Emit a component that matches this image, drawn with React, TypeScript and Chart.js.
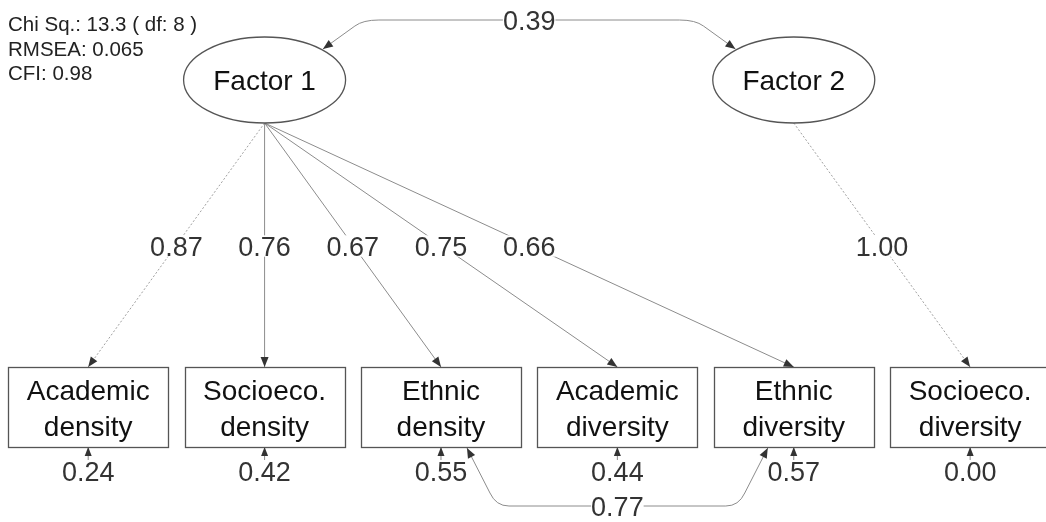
import React, { useEffect, useRef } from 'react';
import { Chart, registerables } from 'chart.js';

Chart.register(...registerables);

// ---------- data ----------
const indicators = ['Academic\ndensity', 'Socioeco.\ndensity', 'Ethnic\ndensity', 'Academic\ndiversity', 'Ethnic\ndiversity', 'Socioeco.\ndiversity'];
const factors = ['Factor 1', 'Factor 2'];
const loadingFactor = [0, 0, 0, 0, 0, 1];
const loadings = [0.87, 0.76, 0.67, 0.75, 0.66, 1.0];
const residuals = [0.24, 0.42, 0.55, 0.44, 0.57, 0.0];
const factorCovPair = [0, 1];
const factorCovValue = 0.39;
const residualCovPair = [2, 4];
const residualCovValue = 0.77;
const chiSq = 13.3;
const chiDf = 8;
const rmsea = 0.065;
const cfi = 0.98;

// ---------- layout ----------
const factorSlot = [1, 4];
const ROW_FACTOR = 80;
const ROW_IND = 407;
const BOX_HW = 80;
const BOX_HH = 40;
const ELL_RX = 81;
const ELL_RY = 43;
const FONT = '"Liberation Sans", Arial, sans-serif';
const NUM_SIZE = 27;

const fmt = (v: number) => v.toFixed(2);

function arrowHead(ctx: CanvasRenderingContext2D, fx: number, fy: number, tx: number, ty: number, len = 10, half = 4) {
  const a = Math.atan2(ty - fy, tx - fx);
  const bx = tx - len * Math.cos(a);
  const by = ty - len * Math.sin(a);
  ctx.save();
  ctx.setLineDash([]);
  ctx.fillStyle = '#333';
  ctx.beginPath();
  ctx.moveTo(tx, ty);
  ctx.lineTo(bx + half * Math.sin(a), by - half * Math.cos(a));
  ctx.lineTo(bx - half * Math.sin(a), by + half * Math.cos(a));
  ctx.closePath();
  ctx.fill();
  ctx.restore();
}

function label(ctx: CanvasRenderingContext2D, text: string, x: number, cy: number, size: number, bg: boolean) {
  ctx.save();
  ctx.font = `${size}px ${FONT}`;
  const w = ctx.measureText(text).width;
  const cap = size * 0.716;
  if (bg) {
    ctx.fillStyle = '#fff';
    ctx.fillRect(x - w / 2, cy - cap / 2 - 1, w, cap + 2);
  }
  ctx.fillStyle = '#333';
  ctx.textAlign = 'center';
  ctx.textBaseline = 'alphabetic';
  ctx.fillText(text, x, cy + cap / 2);
  ctx.restore();
}

const semPlugin = {
  id: 'semDiagram',
  afterDraw(chart: any) {
    const ctx: CanvasRenderingContext2D = chart.ctx;
    const xs = chart.scales.x;
    const ys = chart.scales.y;
    const boxes = indicators.map((_, i) => ({ x: xs.getPixelForValue(i), y: ys.getPixelForValue(ROW_IND) }));
    const facs = factors.map((_, j) => ({ x: xs.getPixelForValue(factorSlot[j]), y: ys.getPixelForValue(ROW_FACTOR) }));

    ctx.save();
    // loadings
    const firstOf: Record<number, number> = {};
    indicators.forEach((_, i) => {
      const f = loadingFactor[i];
      const fixed = firstOf[f] === undefined;
      if (fixed) firstOf[f] = i;
      const sx = facs[f].x, sy = facs[f].y + ELL_RY;
      const tx = boxes[i].x, ty = boxes[i].y - BOX_HH;
      ctx.save();
      ctx.strokeStyle = fixed ? '#a0a0a0' : '#8c8c8c';
      ctx.lineWidth = 1;
      ctx.setLineDash(fixed ? [2, 2] : []);
      ctx.beginPath();
      ctx.moveTo(sx, sy);
      ctx.lineTo(tx, ty);
      ctx.stroke();
      ctx.restore();
      arrowHead(ctx, sx, sy, tx, ty);
      label(ctx, fmt(loadings[i]), (sx + tx) / 2, (sy + ty) / 2 + 1, NUM_SIZE, true);
    });

    // residuals
    indicators.forEach((_, i) => {
      const bx = boxes[i].x, bot = boxes[i].y + BOX_HH;
      ctx.save();
      ctx.strokeStyle = '#8c8c8c';
      ctx.lineWidth = 1;
      ctx.beginPath();
      ctx.moveTo(bx, bot + 13);
      ctx.lineTo(bx, bot);
      ctx.stroke();
      ctx.restore();
      arrowHead(ctx, bx, bot + 13, bx, bot, 9, 3.5);
      label(ctx, fmt(residuals[i]), bx, bot + 24, NUM_SIZE, false);
    });

    // factor covariance
    {
      const f1 = facs[factorCovPair[0]], f2 = facs[factorCovPair[1]];
      const t1 = { x: f1.x + ELL_RX * 0.72, y: f1.y - ELL_RY * 0.72 };
      const t2 = { x: f2.x - ELL_RX * 0.72, y: f2.y - ELL_RY * 0.72 };
      const top = f1.y - ELL_RY - 17;
      const a1 = { x: t1.x + 32, y: top + 6 };
      const a2 = { x: t2.x - 32, y: top + 6 };
      ctx.save();
      ctx.strokeStyle = '#8c8c8c';
      ctx.lineWidth = 1;
      ctx.beginPath();
      ctx.moveTo(t1.x, t1.y);
      ctx.lineTo(a1.x, a1.y);
      ctx.quadraticCurveTo(t1.x + 40, top, t1.x + 56, top);
      ctx.lineTo(t2.x - 56, top);
      ctx.quadraticCurveTo(t2.x - 40, top, a2.x, a2.y);
      ctx.lineTo(t2.x, t2.y);
      ctx.stroke();
      ctx.restore();
      arrowHead(ctx, a1.x, a1.y, t1.x, t1.y);
      arrowHead(ctx, a2.x, a2.y, t2.x, t2.y);
      label(ctx, fmt(factorCovValue), (t1.x + t2.x) / 2, top, NUM_SIZE, true);
    }

    // residual covariance
    {
      const b1 = boxes[residualCovPair[0]], b2 = boxes[residualCovPair[1]];
      const t1 = { x: b1.x + 26, y: b1.y + BOX_HH + 1 };
      const t2 = { x: b2.x - 26, y: b2.y + BOX_HH + 1 };
      const bottom = b1.y + BOX_HH + 59;
      const a1 = { x: t1.x + 23, y: bottom - 13 };
      const a2 = { x: t2.x - 23, y: bottom - 13 };
      ctx.save();
      ctx.strokeStyle = '#8c8c8c';
      ctx.lineWidth = 1;
      ctx.beginPath();
      ctx.moveTo(t1.x, t1.y);
      ctx.lineTo(a1.x, a1.y);
      ctx.quadraticCurveTo(t1.x + 29, bottom, t1.x + 42, bottom);
      ctx.lineTo(t2.x - 42, bottom);
      ctx.quadraticCurveTo(t2.x - 29, bottom, a2.x, a2.y);
      ctx.lineTo(t2.x, t2.y);
      ctx.stroke();
      ctx.restore();
      arrowHead(ctx, a1.x, a1.y, t1.x, t1.y);
      arrowHead(ctx, a2.x, a2.y, t2.x, t2.y);
      label(ctx, fmt(residualCovValue), (t1.x + t2.x) / 2, bottom, NUM_SIZE, true);
    }

    // factor ellipses
    factors.forEach((name, j) => {
      const p = facs[j];
      ctx.save();
      ctx.fillStyle = '#fff';
      ctx.strokeStyle = '#555';
      ctx.lineWidth = 1.3;
      ctx.beginPath();
      ctx.ellipse(p.x, p.y, ELL_RX, ELL_RY, 0, 0, Math.PI * 2);
      ctx.fill();
      ctx.stroke();
      ctx.fillStyle = '#111';
      ctx.font = `28px ${FONT}`;
      ctx.textAlign = 'center';
      ctx.textBaseline = 'alphabetic';
      ctx.fillText(name, p.x, p.y + 10);
      ctx.restore();
    });

    // indicator boxes
    indicators.forEach((name, i) => {
      const p = boxes[i];
      ctx.save();
      ctx.fillStyle = '#fff';
      ctx.strokeStyle = '#555';
      ctx.lineWidth = 1.3;
      const l = Math.round(p.x - BOX_HW) + 0.5;
      const t = Math.round(p.y - BOX_HH) + 0.5;
      ctx.fillRect(l, t, BOX_HW * 2, BOX_HH * 2);
      ctx.strokeRect(l, t, BOX_HW * 2, BOX_HH * 2);
      ctx.fillStyle = '#111';
      ctx.font = `28px ${FONT}`;
      ctx.textAlign = 'center';
      ctx.textBaseline = 'alphabetic';
      const lines = name.split('\n');
      ctx.fillText(lines[0], p.x, p.y - 7);
      ctx.fillText(lines[1], p.x, p.y + 29);
      ctx.restore();
    });

    // fit statistics
    const fitLines = [`Chi Sq.: ${chiSq} ( df: ${chiDf} )`, `RMSEA: ${rmsea}`, `CFI: ${cfi}`];
    ctx.save();
    ctx.fillStyle = '#222';
    ctx.font = `20.5px ${FONT}`;
    ctx.textAlign = 'left';
    ctx.textBaseline = 'alphabetic';
    fitLines.forEach((s, k) => ctx.fillText(s, 8, 31 + k * 24.5));
    ctx.restore();

    ctx.restore();
  },
};

export default function App() {
  const ref = useRef<HTMLCanvasElement>(null);
  useEffect(() => {
    const chart = new Chart(ref.current as HTMLCanvasElement, {
      type: 'scatter',
      data: {
        datasets: [
          { label: 'indicators', data: indicators.map((_, i) => ({ x: i, y: ROW_IND })), pointRadius: 0 },
          { label: 'factors', data: factors.map((_, j) => ({ x: factorSlot[j], y: ROW_FACTOR })), pointRadius: 0 },
        ],
      },
      options: {
        animation: false,
        responsive: true,
        maintainAspectRatio: false,
        events: [],
        layout: { padding: 0 },
        scales: {
          x: { type: 'linear', min: -0.5, max: 5.43, display: false },
          y: { type: 'linear', min: 0, max: 522, reverse: true, display: false },
        },
        plugins: { legend: { display: false }, tooltip: { enabled: false } },
      },
      plugins: [semPlugin],
    });
    return () => chart.destroy();
  }, []);
  return (
    <div style={{ position: 'absolute', left: 0, top: 0, width: 1046, height: 522, background: '#fff' }}>
      <canvas ref={ref} />
    </div>
  );
}
